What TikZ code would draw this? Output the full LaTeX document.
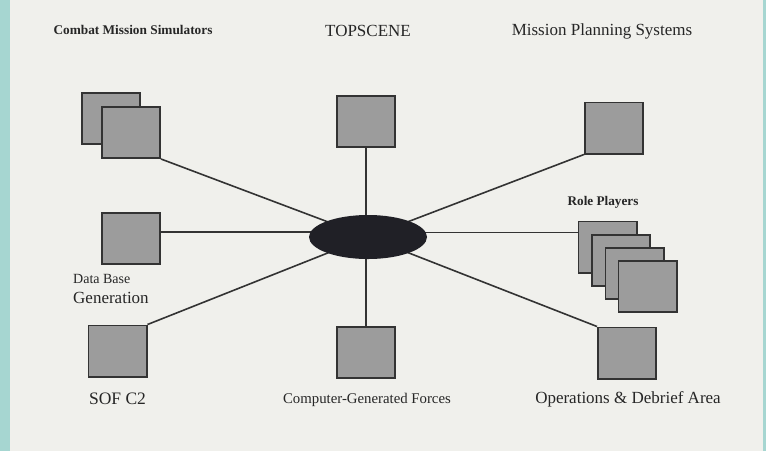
\documentclass[tikz,border=0pt]{standalone}
\usepackage{fontspec}
\setmainfont{Liberation Serif}
\usetikzlibrary{backgrounds,calc,shapes.geometric}
\definecolor{bgc}{HTML}{F0F0EC}
\definecolor{teal}{HTML}{A6D6D1}
\definecolor{boxfill}{HTML}{9C9C9C}
\definecolor{boxline}{HTML}{333333}
\definecolor{hub}{HTML}{202026}
\definecolor{txt}{HTML}{262626}
\tikzset{
  unitbox/.style={rectangle,draw=boxline,fill=boxfill,line width=1.8pt,minimum width=58.2pt,minimum height=51.2pt,inner sep=0pt},
  link/.style={draw=boxline,line width=1.6pt},
  lbl/.style={text=txt,inner sep=0pt,anchor=base},
}
\begin{document}
\begin{tikzpicture}[x=1pt,y=-1pt]
\useasboundingbox (0,0) rectangle (766,451);
% hub
\node[ellipse,fill=hub,minimum width=118pt,minimum height=44pt,inner sep=0pt] (ell) at (368,237) {};
% boxes
\node[unitbox] (cmsA) at (111,118.5) {};
\node[unitbox] (cmsB) at (131,132.5) {};
\node[unitbox] (dbg) at (131,238.5) {};
\node[unitbox] (sof) at (117.5,351) {};
\node[unitbox] (top) at (366,121.5) {};
\node[unitbox] (mps) at (614,128) {};
\node[unitbox] (rpA) at (607.5,247) {};
\node[unitbox] (rpB) at (621,260.5) {};
\node[unitbox] (rpC) at (634.5,273.5) {};
\node[unitbox] (rpD) at (647.5,286.5) {};
\node[unitbox] (ops) at (627,353) {};
\node[unitbox] (cgf) at (366,352.5) {};
% labels
\node[lbl,font=\fontsize{13.3}{15}\selectfont\bfseries] (lcms) at (133,34) {Combat Mission Simulators};
\node[lbl,font=\fontsize{17}{20}\selectfont] (ltop) at (368,36) {TOPSCENE};
\node[lbl,font=\fontsize{17}{20}\selectfont] (lmps) at (602,35) {Mission Planning Systems};
\node[lbl,font=\fontsize{13.2}{15}\selectfont\bfseries] (lrp) at (603,205) {Role Players};
\node[lbl,anchor=base west,font=\fontsize{14}{16}\selectfont] (ldb1) at (73,283) {Data Base};
\node[lbl,anchor=base west,font=\fontsize{17}{20}\selectfont] (ldb2) at (73,303) {Generation};
\node[lbl,font=\fontsize{17.5}{20}\selectfont] (lsof) at (117.5,404) {SOF C2};
\node[lbl,font=\fontsize{14.8}{18}\selectfont] (lcgf) at (367,403) {Computer-Generated Forces};
\node[lbl,font=\fontsize{17}{20}\selectfont] (lops) at (628,403) {Operations \& Debrief Area};
% background and connectors
\begin{scope}[on background layer]
  \fill[bgc] (0,0) rectangle (766,451);
  \fill[teal] (0,0) rectangle (10,451);
  \fill[teal] (763,0) rectangle (766,451);
  \path[link] (cmsB.south east) -- (ell.center);
  \path[link] ($(dbg.north east)!0.377!(dbg.south east)$) -- (ell.center |- {$(dbg.north east)!0.377!(dbg.south east)$});
  \path[link] (sof.north east) -- (ell.center);
  \path[link] (top.south) -- (top.south |- ell.center);
  \path[link] (mps.south west) -- (ell.center);
  \path[link] ($(rpA.north west)!0.23!(rpA.south west)$) -- (ell.center |- {$(rpA.north west)!0.23!(rpA.south west)$});
  \path[link] (ops.north west) -- (ell.center);
  \path[link] (cgf.north) -- (cgf.north |- ell.center);
\end{scope}
\end{tikzpicture}
\end{document}
